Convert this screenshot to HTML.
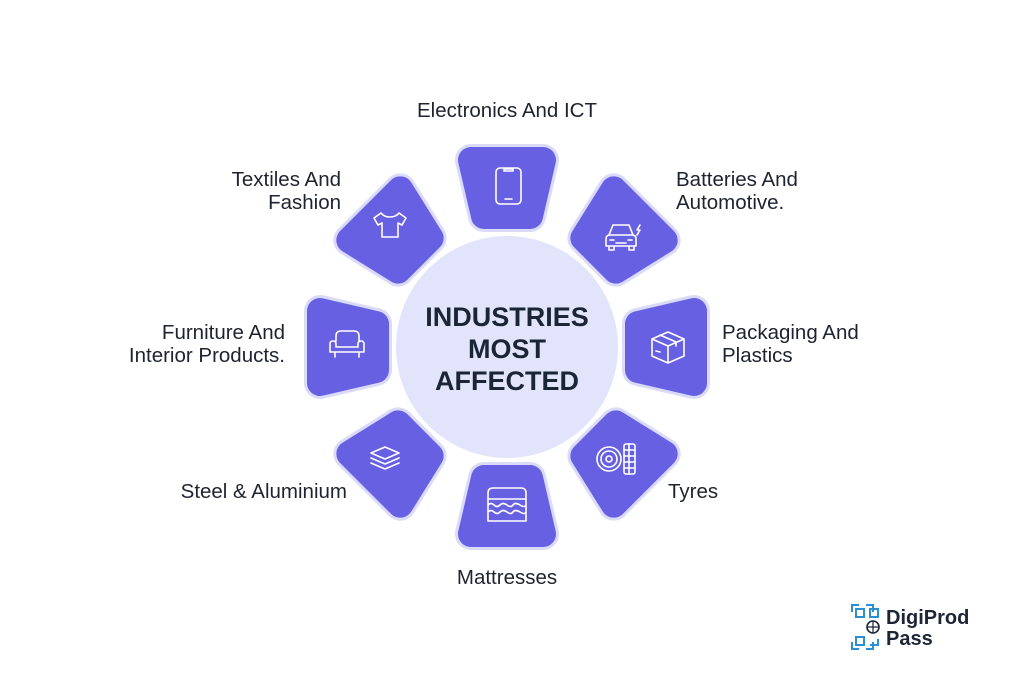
<!DOCTYPE html>
<html><head><meta charset="utf-8"><style>
html,body{margin:0;padding:0;background:#fff;}
body{width:1024px;height:687px;overflow:hidden;position:relative;font-family:"Liberation Sans",sans-serif;}
.t{position:absolute;font-size:20.5px;line-height:23px;color:#1f2230;white-space:nowrap;}
</style></head><body>
<svg width="1024" height="687" style="position:absolute;left:0;top:0">
<defs>
<path id="seg" d="M-36,-28 L36,-28 L23,28 L-23,28 Z"/>
<g id="s"><use href="#seg" fill="#d9dbf8" stroke="#d9dbf8" stroke-width="32"/><use href="#seg" fill="#6860e2" stroke="#6860e2" stroke-width="26"/></g>
</defs>
<circle cx="507" cy="347" r="111" fill="#e1e4fb"/>
<g stroke-linejoin="round">
<use href="#s" transform="translate(507,347) rotate(0) translate(0,-159)"/>
<use href="#s" transform="translate(507,347) rotate(45) translate(0,-159)"/>
<use href="#s" transform="translate(507,347) rotate(90) translate(0,-159)"/>
<use href="#s" transform="translate(507,347) rotate(135) translate(0,-159)"/>
<use href="#s" transform="translate(507,347) rotate(180) translate(0,-159)"/>
<use href="#s" transform="translate(507,347) rotate(225) translate(0,-159)"/>
<use href="#s" transform="translate(507,347) rotate(270) translate(0,-159)"/>
<use href="#s" transform="translate(507,347) rotate(315) translate(0,-159)"/>
</g>
<g fill="none" stroke="#fff" stroke-width="1.6" stroke-linecap="round" stroke-linejoin="round">
<rect x="496" y="168" width="25" height="36" rx="4"/><path d="M504,169 h9 v2 h-9z M505,199 h7"/>
<path d="M381,213 l-7,5 4,7 4,-2 v14 h16 v-14 l4,2 4,-7 -7,-5 q-3,4 -9,4 q-6,0 -9,-4z"/>
<path d="M609,235 l4,-10 h16 l4,10 M606,246 v-7 q0,-4 4,-4 h22 q4,0 4,4 v7z M609,246 v4 h5 v-4 M629,246 v4 h5 v-4 M610,240 h4 M628,240 h4 M616,243 h10 M640,225 l-3,5 h3 l-3,5"/>
<path d="M336,341 v-5 q0,-5 5,-5 h13 q5,0 5,5 v5 M333,341 q-3,0 -3,3 v8 h34 v-8 q0,-3 -3,-3 q-3,0 -3,3 v3 h-22 v-3 q0,-3 -3,-3z M335,352 v5 M359,352 v5"/>
<path d="M668,332 l-16,7 v17 l16,7 16,-7 v-17z M652,339 l16,7 16,-7 M668,346 v17 M660,335 l16,7 v4 M656,351 l4,1"/>
<path d="M371,453 l14,-6 14,6 -14,6z M371,458 l14,6 14,-6 M371,463 l14,6 14,-6"/>
<circle cx="609" cy="459" r="12"/><circle cx="609" cy="459" r="8"/><circle cx="609" cy="459" r="3"/>
<rect x="624" y="444" width="11" height="30" rx="2"/><path d="M624,450 h11 M624,456 h11 M624,462 h11 M624,468 h11 M629,444 v30"/>
<path d="M488,493 q0,-5 5,-5 h28 q5,0 5,5 v28 h-38z M488,499 h38 M488,505 q3,-3 6,0 t6,0 t7,0 t6,0 t7,0 t6,0 M488,512 q3,-3 6,0 t6,0 t7,0 t6,0 t7,0 t6,0"/>
</g>
<text x="507" y="326" text-anchor="middle" font-family="Liberation Sans, sans-serif" font-weight="bold" font-size="27" fill="#1c2536">INDUSTRIES</text>
<text x="507" y="358" text-anchor="middle" font-family="Liberation Sans, sans-serif" font-weight="bold" font-size="27" fill="#1c2536">MOST</text>
<text x="507" y="390" text-anchor="middle" font-family="Liberation Sans, sans-serif" font-weight="bold" font-size="27" fill="#1c2536">AFFECTED</text>
<g fill="none" stroke="#2a8fd6" stroke-width="2">
<path d="M852,612 v-7 h7 M866,605 h7 v7 M852,642 v7 h7 M866,649 h7 v-7"/>
<rect x="856" y="609" width="8" height="8"/><rect x="870" y="609" width="8" height="8"/><rect x="856" y="637" width="8" height="8"/><path d="M870,645 h8 v-6"/>
</g>
<circle cx="873" cy="627" r="6" fill="none" stroke="#1c2536" stroke-width="1.6"/><path d="M867,627 h12 M873,621 v12" stroke="#1c2536" stroke-width="1.2"/>
<text x="886" y="624" font-family="Liberation Sans, sans-serif" font-weight="bold" font-size="20" fill="#1c2536">DigiProd</text>
<text x="886" y="645" font-family="Liberation Sans, sans-serif" font-weight="bold" font-size="20" fill="#1c2536">Pass</text>
</svg>
<div class="t" style="left:507px;top:99px;transform:translateX(-50%)">Electronics And ICT</div>
<div class="t" style="right:683px;top:168px;text-align:right">Textiles And<br>Fashion</div>
<div class="t" style="left:676px;top:168px">Batteries And<br>Automotive.</div>
<div class="t" style="left:722px;top:321px">Packaging And<br>Plastics</div>
<div class="t" style="right:739px;top:321px;text-align:right">Furniture And<br>Interior Products.</div>
<div class="t" style="left:668px;top:480px">Tyres</div>
<div class="t" style="right:677px;top:480px;text-align:right">Steel &amp; Aluminium</div>
<div class="t" style="left:507px;top:566px;transform:translateX(-50%)">Mattresses</div>
</body></html>
